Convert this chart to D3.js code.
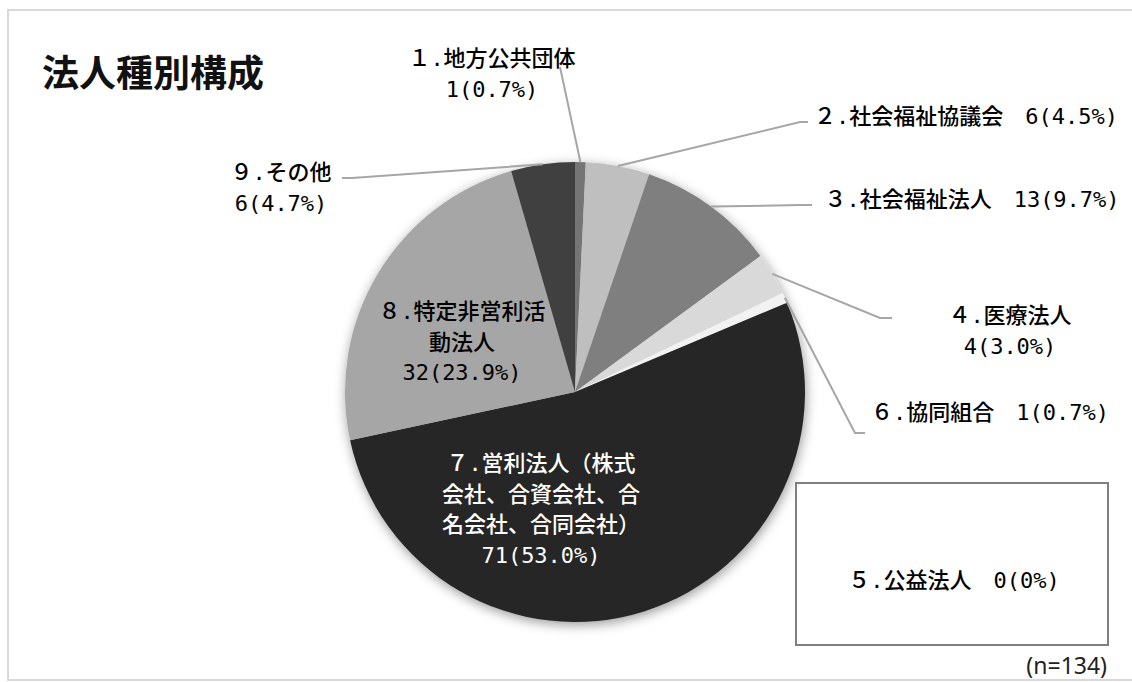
<!DOCTYPE html>
<html lang="ja">
<head>
<meta charset="utf-8">
<script src="https://cdn.jsdelivr.net/npm/d3@7"></script>
<style>
  html, body { margin: 0; padding: 0; background: #fff; }
  svg { display: block; }
</style>
</head>
<body>
<svg id="chart" width="1132" height="682"></svg>
<script>
// 法人種別構成 — corporate type breakdown (n=134)
const categories = [
  "１.地方公共団体",
  "２.社会福祉協議会",
  "３.社会福祉法人",
  "４.医療法人",
  "５.公益法人",
  "６.協同組合",
  "７.営利法人（株式会社、合資会社、合名会社、合同会社）",
  "８.特定非営利活動法人",
  "９.その他"
];
const counts = [1, 6, 13, 4, 0, 1, 71, 32, 6];
const percentLabels = ["0.7%", "4.5%", "9.7%", "3.0%", "0%", "0.7%", "53.0%", "23.9%", "4.7%"];
const totalLabel = "(n=134)";
const titleText = "法人種別構成";

const sliceColors = ["#747474", "#bfbfbf", "#7f7f7f", "#d9d9d9", "#ffffff", "#f2f2f2", "#262626", "#a6a6a6", "#404040"];

const W = 1132, H = 682;
const cx = 575, cy = 392, R = 230;
const labelFont = "'DejaVu Sans Mono', 'Noto Sans CJK JP', sans-serif";
const labelSize = 22;
const lineGap = 30.5;

const svg = d3.select("#chart");

// chart frame
svg.append("rect")
  .attr("x", 8).attr("y", 10).attr("width", 1140).attr("height", 670)
  .attr("fill", "#fff").attr("stroke", "#d9d9d9").attr("stroke-width", 2);

// soft shadow under the pie
const defs = svg.append("defs");
const f = defs.append("filter").attr("id", "pieShadow")
  .attr("x", "-10%").attr("y", "-10%").attr("width", "120%").attr("height", "120%");
f.append("feDropShadow").attr("dx", 1).attr("dy", 3).attr("stdDeviation", 6)
  .attr("flood-color", "#000").attr("flood-opacity", 0.4);

// title
svg.append("text")
  .attr("x", 42).attr("y", 71)
  .attr("dominant-baseline", "central")
  .attr("font-family", "'Noto Sans CJK JP', sans-serif")
  .attr("font-weight", 700).attr("font-size", 37)
  .attr("fill", "#111")
  .text(titleText);

const data = categories.map((name, i) => ({ name, count: counts[i], pct: percentLabels[i], i }));

const pie = d3.pie().sort(null).value(d => d.count);
const arcs = pie(data);
const arc = d3.arc().innerRadius(0).outerRadius(R);

const g = svg.append("g").attr("transform", `translate(${cx},${cy})`);
g.append("g").attr("filter", "url(#pieShadow)")
  .selectAll("path")
  .data(arcs.filter(a => a.data.count > 0))
  .join("path")
  .attr("d", arc)
  .attr("fill", a => sliceColors[a.data.i]);

// label layout: position of the text block, wrapping, and leader-line bend points
const layout = {
  0: { x: 492, y: 58, wrap: 8, leader: [[560, 67]] },
  1: { x: 966, y: 116, inline: true, leader: [[800, 122], [808, 122]] },
  2: { x: 972, y: 199, inline: true, leader: [[800, 205], [812, 205]] },
  3: { x: 1010, y: 315, wrap: 8, leader: [[880, 318], [892, 318]] },
  5: { x: 990, y: 412, inline: true, leader: [[855, 433], [865, 433]] },
  6: { x: 541, y: 463, wrap: 9, fill: "#fff" },
  7: { x: 462, y: 311, wrap: 8 },
  8: { x: 281, y: 172, wrap: 8, leader: [[352, 178], [342, 178]] }
};

function wrapChars(s, n) {
  const out = [];
  const chars = Array.from(s);
  for (let k = 0; k < chars.length; k += n) out.push(chars.slice(k, k + n).join(""));
  return out;
}

const valueText = d => `${d.count}(${d.pct})`;

const leaderG = svg.append("g");
const labelG = svg.append("g");

arcs.forEach(a => {
  const d = a.data;
  const L = layout[d.i];
  if (!L) return;
  if (L.leader) {
    const mid = (a.startAngle + a.endAngle) / 2;
    const start = [cx + R * Math.sin(mid), cy - R * Math.cos(mid)];
    leaderG.append("path")
      .attr("d", d3.line()([start, ...L.leader]))
      .attr("fill", "none").attr("stroke", "#a6a6a6").attr("stroke-width", 2);
  }
  const lines = L.inline ? [d.name + "　" + valueText(d)] : [...wrapChars(d.name, L.wrap), valueText(d)];
  const t = labelG.append("text")
    .attr("font-family", labelFont).attr("font-size", labelSize).attr("font-weight", 500)
    .attr("text-anchor", "middle").attr("dominant-baseline", "central")
    .attr("fill", L.fill || "#000");
  lines.forEach((ln, k) => {
    t.append("tspan").attr("x", L.x).attr("y", L.y + k * lineGap).text(ln);
  });
});

// zero-count category shown in its own box
const zero = data[4];
svg.append("rect")
  .attr("x", 796).attr("y", 483).attr("width", 312).attr("height", 162)
  .attr("fill", "#fff").attr("stroke", "#7f7f7f").attr("stroke-width", 2);
svg.append("text")
  .attr("x", 954).attr("y", 580)
  .attr("font-family", labelFont).attr("font-size", labelSize).attr("font-weight", 500)
  .attr("text-anchor", "middle").attr("dominant-baseline", "central")
  .attr("fill", "#000")
  .text(zero.name + "　" + valueText(zero));

// sample size note
svg.append("text")
  .attr("x", 1107).attr("y", 665)
  .attr("font-family", "'Noto Sans', sans-serif").attr("font-size", 23)
  .attr("text-anchor", "end").attr("dominant-baseline", "central")
  .attr("fill", "#222")
  .text(totalLabel);
</script>
</body>
</html>
